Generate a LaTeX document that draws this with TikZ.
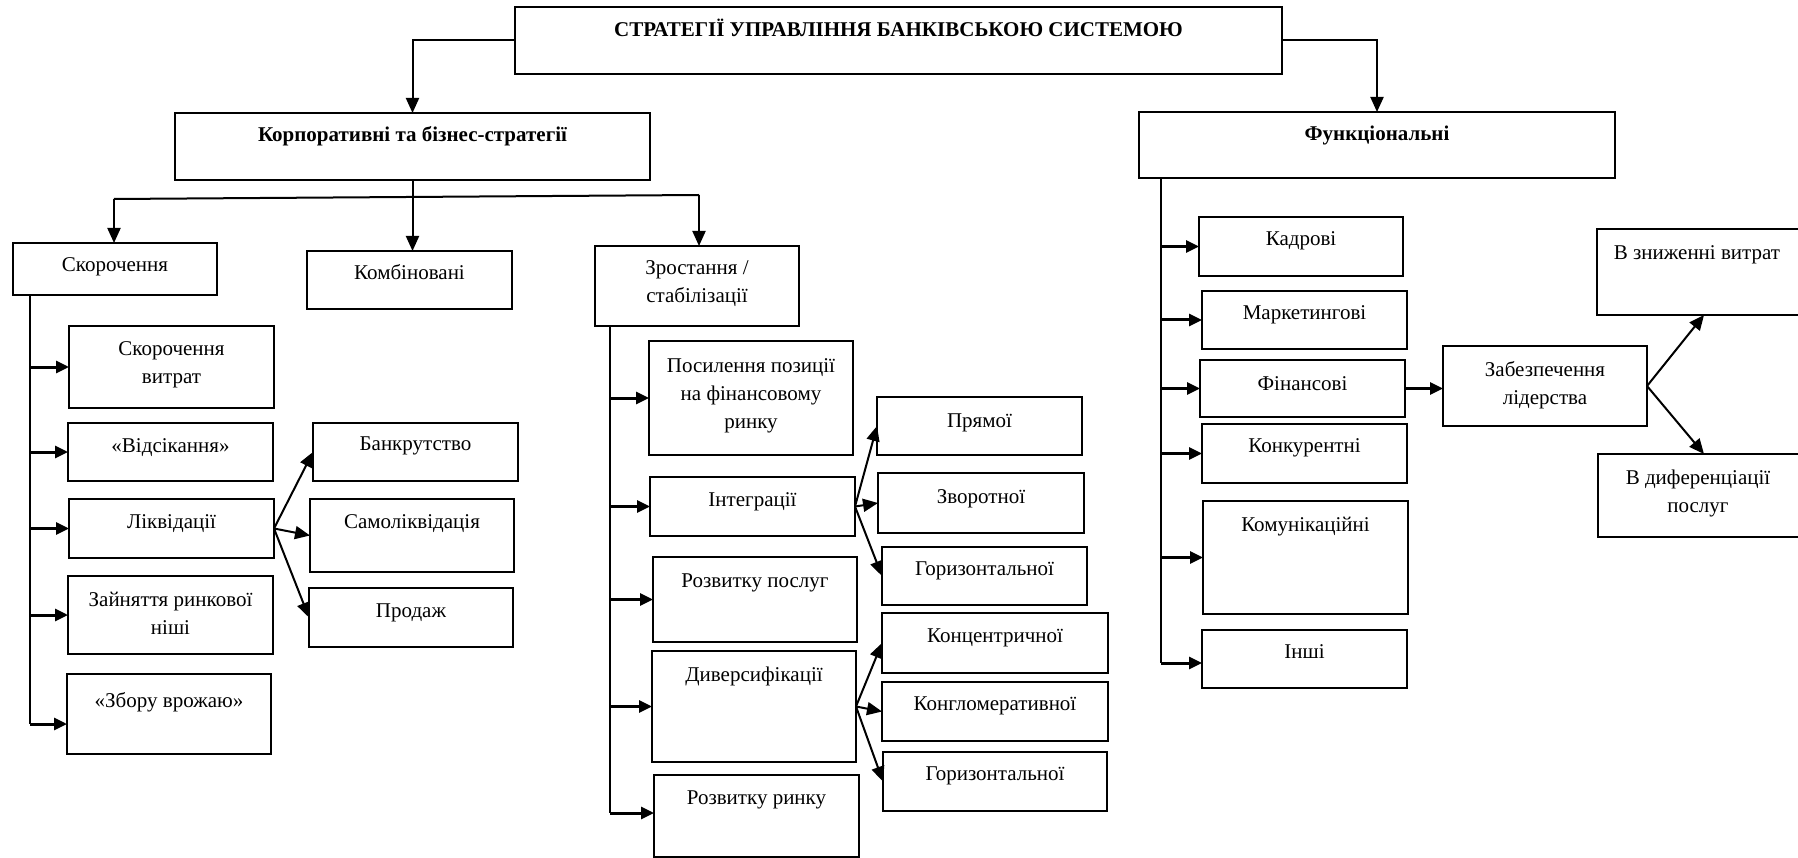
\documentclass[tikz,border=0pt]{standalone}
\usepackage{fontspec}
\setmainfont{Liberation Serif}
\usetikzlibrary{arrows.meta}
\tikzset{
  box/.style={draw, line width=1.8pt, inner sep=0pt, outer sep=0pt},
  txt/.style={font=\fontsize{21}{28}\selectfont, align=center, inner sep=0pt, anchor=base},
  btxt/.style={txt, font=\fontsize{21}{28}\selectfont\bfseries},
  conn/.style={line width=2pt},
  arr/.style={line width=2pt, -{Triangle[length=15pt,width=13pt]}},
  harr/.style={line width=3pt, -{Triangle[length=13pt,width=12pt]}},
}
\newcommand\bx[7]{%
  \pgfmathsetmacro\bxw{#4-#2}%
  \pgfmathsetmacro\bxh{#5-#3}%
  \pgfmathsetmacro\bxc{(#2+#4)/2}%
  \node[box, anchor=north west, minimum width=\bxw pt, minimum height=\bxh pt] (#1) at (#2,#3) {};
  \node[txt] (#1t) at (\bxc,#6) {#7};}
\newcommand\bbx[7]{%
  \pgfmathsetmacro\bxw{#4-#2}%
  \pgfmathsetmacro\bxh{#5-#3}%
  \pgfmathsetmacro\bxc{(#2+#4)/2}%
  \node[box, anchor=north west, minimum width=\bxw pt, minimum height=\bxh pt] (#1) at (#2,#3) {};
  \node[btxt] (#1t) at (\bxc,#6) {#7};}
\begin{document}
\begin{tikzpicture}[x=1pt,y=-1pt]
\useasboundingbox (0,0) rectangle (1798,858);
\fill[white] (0,0) rectangle (1798,858);
% top level
\bbx{title}{515}{7}{1282}{74}{37}{СТРАТЕГІЇ УПРАВЛІННЯ БАНКІВСЬКОЮ СИСТЕМОЮ}
\bbx{corp}{175}{113}{650}{180}{142}{Корпоративні та бізнес-стратегії}
\bbx{func}{1139}{112}{1615}{178}{141}{Функціональні}
% second level
\bx{skor}{13}{243}{217}{295}{272}{Скорочення}
\bx{komb}{307}{251}{512}{309}{280}{Комбіновані}
\bx{zrost}{595}{246}{799}{326}{303}{Зростання /\\стабілізації}
% skorochennia branch
\bx{skorv}{69}{326}{274}{408}{383}{Скорочення\\витрат}
\bx{vids}{68}{423}{273}{481}{452}{«Відсікання»}
\bx{likv}{69}{499}{274}{558}{528}{Ліквідації}
\bx{zain}{68}{576}{273}{654}{634}{Зайняття ринкової\\ніші}
\bx{zbor}{67}{674}{271}{754}{707}{«Збору врожаю»}
\bx{bank}{313}{423}{518}{481}{450}{Банкрутство}
\bx{samo}{310}{499}{514}{572}{528}{Самоліквідація}
\bx{prod}{309}{588}{513}{647}{617}{Продаж}
% zrostannia branch
\bx{posyl}{649}{341}{853}{455}{428}{Посилення позиції\\на фінансовому\\ринку}
\bx{integ}{650}{477}{855}{536}{506}{Інтеграції}
\bx{rozp}{653}{557}{857}{642}{587}{Розвитку послуг}
\bx{divers}{652}{651}{856}{762}{681}{Диверсифікації}
\bx{rozr}{654}{775}{859}{857}{804}{Розвитку ринку}
\bx{pryam}{877}{397}{1082}{455}{427}{Прямої}
\bx{zvor}{878}{473}{1084}{533}{503}{Зворотної}
\bx{hora}{882}{547}{1087}{605}{575}{Горизонтальної}
\bx{konc}{882}{613}{1108}{673}{642}{Концентричної}
\bx{kongl}{882}{682}{1108}{741}{710}{Конгломеративної}
\bx{horb}{883}{752}{1107}{811}{780}{Горизонтальної}
% functional branch
\bx{kadr}{1199}{217}{1403}{276}{246}{Кадрові}
\bx{mark}{1202}{291}{1407}{349}{320}{Маркетингові}
\bx{fin}{1200}{360}{1405}{417}{390}{Фінансові}
\bx{konk}{1202}{424}{1407}{483}{452}{Конкурентні}
\bx{komun}{1203}{501}{1408}{614}{531}{Комунікаційні}
\bx{inshi}{1202}{630}{1407}{688}{658}{Інші}
\bx{zabez}{1443}{346}{1647}{426}{404}{Забезпечення\\лідерства}
\node[box, anchor=north west, minimum width=230pt, minimum height=86pt] (znyzh) at (1597,229) {};
\node[txt] (znyzht) at (1697,260) {В зниженні витрат};
\node[box, anchor=north west, minimum width=230pt, minimum height=83pt] (dyfer) at (1598,454) {};
\node[txt] (dyfert) at (1698,512) {В диференціації\\послуг};
% connectors top
\draw[arr] (title.west) -| (corp.north);
\draw[arr] (title.east) -| (func.north);
\coordinate (hl) at (114,199);
\coordinate (hr) at (699,195);
\draw[conn] (corp.south) -- (corp.south |- 0,197);
\draw[conn] (hl) -- (hr);
\draw[arr] (hl) -- (hl |- skor.north);
\draw[arr] (corp.south |- 0,197) -- (corp.south |- komb.north);
\draw[arr] (hr) -- (hr |- zrost.north);
% skorochennia stem
\coordinate (ss) at (30,295);
\coordinate (se) at (30,724);
\draw[conn] (ss) -- (se);
\foreach \n in {skorv,vids,likv,zain} \draw[harr] (ss |- \n.west) -- (\n.west);
\draw[harr] (se) -- (se -| zbor.west);
\foreach \n in {bank,samo,prod} \draw[arr] (likv.east) -- (\n.west);
% zrostannia stem
\coordinate (zs) at (610,326);
\coordinate (ze) at (610,813);
\draw[conn] (zs) -- (ze);
\foreach \n in {posyl,integ,rozp,divers} \draw[harr] (zs |- \n.west) -- (\n.west);
\draw[harr] (ze) -- (ze -| rozr.west);
\foreach \n in {pryam,zvor,hora} \draw[arr] (integ.east) -- (\n.west);
\foreach \n in {konc,kongl,horb} \draw[arr] (divers.east) -- (\n.west);
% functional stem
\coordinate (fs) at (1161,178);
\coordinate (fe) at (1161,663);
\draw[conn] (fs) -- (fe);
\foreach \n in {kadr,mark,fin,konk,komun} \draw[harr] (fs |- \n.west) -- (\n.west);
\draw[harr] (fe) -- (fe -| inshi.west);
\draw[harr] (fin.east) -- (fin.east -| zabez.west);
\draw[arr] (zabez.east) -- ([xshift=107pt]znyzh.south west);
\draw[arr] (zabez.east) -- ([xshift=106pt]dyfer.north west);
\end{tikzpicture}
\end{document}
